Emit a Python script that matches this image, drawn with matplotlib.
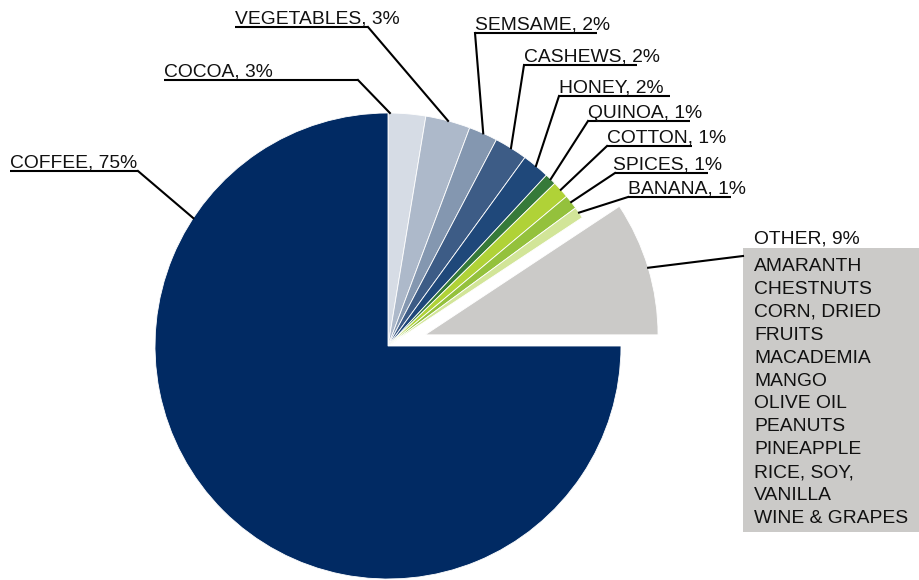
import numpy as np
import matplotlib.pyplot as plt

plt.rcParams.update({
    "font.family": ["Liberation Sans", "DejaVu Sans"],
    "font.size": 13.9,
    "text.color": "#111111",
})

W, H = 920, 580

# data (clockwise from 12 o'clock)
names = ["COCOA", "VEGETABLES", "SEMSAME", "CASHEWS", "HONEY", "QUINOA",
         "COTTON", "SPICES", "BANANA", "OTHER", "COFFEE"]
shares = [2.6, 3.1, 2.0, 2.3, 1.9, 0.8, 1.2, 1.0, 0.8, 9.3, 75.0]
pct_labels = ["3%", "3%", "2%", "2%", "2%", "1%", "1%", "1%", "1%", "9%", "75%"]
colors = ["#d6dce5", "#adb9ca", "#8497b0", "#3d5c86", "#1f487a", "#367a39",
          "#b0d237", "#94c13c", "#d2e598", "#cbcac8", "#012a63"]
other_items = ["AMARANTH", "CHESTNUTS", "CORN, DRIED", "FRUITS", "MACADEMIA",
               "MANGO", "OLIVE OIL", "PEANUTS", "PINEAPPLE", "RICE, SOY,",
               "VANILLA", "WINE & GRAPES"]

# label layout in pixels from top-left: text x, underline y, underline x0, x1, leader side, attach fraction
layout = {
    "COCOA":      (164, 80, 164, 358, "r", 0.95),
    "VEGETABLES": (235, 27, 235, 368, "r", 0.5),
    "SEMSAME":    (475, 33, 475, 597, "l", 0.5),
    "CASHEWS":    (524, 65, 524, 637, "l", 0.5),
    "HONEY":      (559, 96, 559, 670, "l", 0.5),
    "QUINOA":     (588, 121, 588, 690, "l", 0.5),
    "COTTON":     (607, 146, 607, 692, "l", 0.5),
    "SPICES":     (613, 173, 615, 708, "l", 0.5),
    "BANANA":     (628, 197, 628, 731, "l", 0.5),
    "COFFEE":     (10, 171, 10, 138, "r", 0.21),
}

fig = plt.figure(figsize=(9.2, 5.8), dpi=100)
ax = fig.add_axes([0, 0, 1, 1])

radius = 233
explode = [0.166 * radius if n == "OTHER" else 0 for n in names]
wedges, _ = ax.pie(shares, colors=colors, startangle=90, counterclock=False,
                   radius=radius, center=(388, H - 346), explode=explode,
                   wedgeprops=dict(edgecolor="white", linewidth=0.6))

def arc_point(w, frac):
    a = np.deg2rad(w.theta1 + frac * (w.theta2 - w.theta1))
    cx, cy = w.center
    return cx + w.r * np.cos(a), cy + w.r * np.sin(a)

for name, pct, w in zip(names, pct_labels, wedges):
    if name == "OTHER":
        continue
    tx, uy, x0, x1, side, frac = layout[name]
    ax.text(tx, H - uy + 3.5, f"{name}, {pct}", ha="left", va="baseline")
    ax.plot([x0, x1], [H - uy, H - uy], color="black", lw=1.5, solid_capstyle="butt")
    sx = x1 if side == "r" else x0
    px, py = arc_point(w, frac)
    ax.plot([sx, px], [H - uy, py], color="black", lw=1.5)

# OTHER label with list box
iother = names.index("OTHER")
ax.add_patch(plt.Rectangle((743, H - 532), W - 743, 532 - 248,
                           facecolor="#cbcac8", edgecolor="none"))
ax.text(754, H - 243, f"OTHER, {pct_labels[iother]}", ha="left", va="baseline")
for i, item in enumerate(other_items):
    ax.text(754, H - (271 + i * 22.9), item, ha="left", va="baseline")
px, py = arc_point(wedges[iother], 0.5)
ax.plot([px, 743], [py, H - 256], color="black", lw=1.5)

ax.set_xlim(0, W)
ax.set_ylim(0, H)
ax.set_aspect("equal")
ax.axis("off")
fig.savefig("out.png", dpi=100)
